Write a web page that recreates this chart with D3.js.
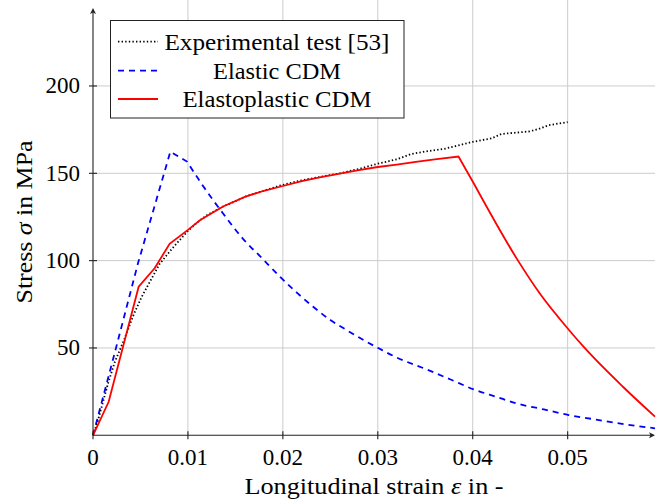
<!DOCTYPE html>
<html><head><meta charset="utf-8">
<script src="https://cdn.jsdelivr.net/npm/d3@7/dist/d3.min.js"></script>
<style>
body{margin:0;background:#fff;}
</style></head>
<body><svg id="c" width="664" height="500"></svg>
<script>
// ---- data ----
const xTicks = [0, 0.01, 0.02, 0.03, 0.04, 0.05];
const xTickLabels = ["0", "0.01", "0.02", "0.03", "0.04", "0.05"];
const yTicks = [50, 100, 150, 200];
const yTickLabels = ["50", "100", "150", "200"];
const seriesNames = ["Experimental test [53]", "Elastic CDM", "Elastoplastic CDM"];

const expStrain = [0,0.0005,0.001,0.0016,0.0023,0.0033,0.0042,0.0051,0.006,0.007,0.0082,0.009,0.01,0.011,0.012,0.0137,0.015,0.0162,0.018,0.0197,0.022,0.024,0.026,0.028,0.030,0.032,0.0335,0.035,0.037,0.0385,0.040,0.042,0.043,0.045,0.046,0.047,0.048,0.049,0.050];
const expStress = [0,8,18,30,42,55,68,79,88,98,106,111,117,122,126,131,134,137,140,143,146,148,150,152.5,155.5,158,161,162.5,164,166,168,170,172.5,173.5,174,175.5,177.5,178.5,179.3];

const elStrain = [0,0.00228,0.00474,0.00815,0.0099,0.0115,0.0137,0.0158,0.0178,0.0197,0.0215,0.0232,0.025,0.0267,0.0285,0.0301,0.032,0.0351,0.0376,0.0401,0.0425,0.0446,0.0475,0.0501,0.053,0.056,0.0592];
const elStress = [0,47,98.5,162.4,156.7,143.5,127,112.5,101.4,90.8,81.5,73.6,66,60.3,54.5,49.8,44.5,37.8,32.1,26.3,22,18.3,14.8,11.6,9,6.3,4];

const epStrain = [0,0.00165,0.00481,0.00649,0.00807,0.01,0.0113,0.0137,0.016,0.018,0.0197,0.022,0.024,0.026,0.028,0.030,0.032,0.034,0.036,0.0385,0.0401,0.04477,0.04705,0.05014,0.05179,0.05582,0.0592];
const epStress = [0,19.2,85.1,95.6,109.6,117.6,123.3,131,136.5,140,142.3,145.5,147.8,149.8,151.8,153.6,155,156.5,158,159.6,144.3,100,81.3,60.3,50,27.8,10.7];

// ---- layout ----
const svg = d3.select("#c");
const FONT = '"Liberation Serif"';
const x0 = 93, x1 = 655, yBase = 435.3, yTop = 0;
const x = d3.scaleLinear().domain([0, 0.0592]).range([x0, x1]);
const y = d3.scaleLinear().domain([0, 150]).range([yBase, 173.3]);

// grid
const g = svg.append("g");
g.selectAll(".vg").data(xTicks.slice(1)).join("line")
  .attr("x1", d => x(d)).attr("x2", d => x(d)).attr("y1", yTop).attr("y2", yBase)
  .attr("stroke", "#cccccc").attr("stroke-width", 1);
g.selectAll(".hg").data(yTicks).join("line")
  .attr("x1", x0).attr("x2", x1).attr("y1", d => y(d)).attr("y2", d => y(d))
  .attr("stroke", "#cccccc").attr("stroke-width", 1);

// curves
const line = d3.line().x(d => x(d[0])).y(d => y(d[1]));
const smooth = d3.line().x(d => x(d[0])).y(d => y(d[1])).curve(d3.curveMonotoneX);
const expPts = expStrain.map((s, i) => [s, expStress[i]]);
const elPts = elStrain.map((s, i) => [s, elStress[i]]);
const epPts = epStrain.map((s, i) => [s, epStress[i]]);
const peakEp = d3.maxIndex(epStress);
const peakEl = d3.maxIndex(elStress);

const elPath = line(elPts.slice(0, peakEl + 2)) + smooth(elPts.slice(peakEl + 1)).replace(/^M/, "L");
svg.append("path").attr("d", elPath).attr("fill", "none")
  .attr("stroke", "#0000ff").attr("stroke-width", 1.8).attr("stroke-dasharray", "6,5");
svg.append("path").attr("d", line(expPts)).attr("fill", "none")
  .attr("stroke", "#000").attr("stroke-width", 1.8).attr("stroke-dasharray", "1.4,2.2");
const epPath = line(epPts.slice(0, peakEp + 2)) + smooth(epPts.slice(peakEp + 1)).replace(/^M/, "L");
svg.append("path").attr("d", epPath).attr("fill", "none")
  .attr("stroke", "#ff0000").attr("stroke-width", 1.8);

// axes
const ax = svg.append("g").attr("stroke", "#222").attr("stroke-width", 1.1);
ax.append("line").attr("x1", x0).attr("x2", x1 - 2).attr("y1", yBase).attr("y2", yBase);
ax.append("line").attr("x1", x0).attr("x2", x0).attr("y1", yBase).attr("y2", 10);
svg.append("path").attr("d", `M${x1},${yBase} L${x1-6},${yBase-3} L${x1-4.5},${yBase} L${x1-6},${yBase+3}Z`).attr("fill", "#222");
svg.append("path").attr("d", `M${x0},8 L${x0-3},14 L${x0},12.5 L${x0+3},14Z`).attr("fill", "#222");

ax.selectAll(".xt").data(xTicks).join("line")
  .attr("x1", d => x(d)).attr("x2", d => x(d)).attr("y1", yBase - 4).attr("y2", yBase + 4);
ax.selectAll(".yt").data(yTicks).join("line")
  .attr("x1", x0 - 4).attr("x2", x0 + 4).attr("y1", d => y(d)).attr("y2", d => y(d));

// tick labels
svg.selectAll(".xl").data(xTicks).join("text")
  .style("font-family", FONT)
  .attr("x", d => x(d)).attr("y", 465).attr("text-anchor", "middle")
  .attr("font-size", 23).text((d, i) => xTickLabels[i]);
svg.selectAll(".yl").data(yTicks).join("text")
  .style("font-family", FONT)
  .attr("x", 80).attr("y", d => y(d) + 7.5).attr("text-anchor", "end")
  .attr("font-size", 23).text((d, i) => yTickLabels[i]);

// axis titles
const xt = svg.append("text").style("font-family", FONT).attr("x", 374).attr("y", 493.5).attr("text-anchor", "middle")
  .attr("font-size", 24).attr("textLength", 259).attr("lengthAdjust", "spacingAndGlyphs");
xt.append("tspan").text("Longitudinal strain ");
xt.append("tspan").attr("font-style", "italic").text("ε");
xt.append("tspan").text(" in -");
const yt = svg.append("text").style("font-family", FONT).attr("transform", "translate(32,222) rotate(-90)").attr("text-anchor", "middle")
  .attr("font-size", 24).attr("textLength", 163).attr("lengthAdjust", "spacingAndGlyphs");
yt.append("tspan").text("Stress ");
yt.append("tspan").attr("font-style", "italic").text("σ");
yt.append("tspan").text(" in MPa");

// legend
const lg = svg.append("g");
lg.append("rect").attr("x", 110.5).attr("y", 20.5).attr("width", 293.5).attr("height", 97.5)
  .attr("fill", "#fff").attr("stroke", "#222").attr("stroke-width", 1);
const legRows = [41.7, 70.7, 99];
const legWidths = [225, 128, 189];
const legStyles = [
  {c: "#000", dash: "1.4,2.2"},
  {c: "#0000ff", dash: "6,5"},
  {c: "#ff0000", dash: null}
];
seriesNames.forEach((name, i) => {
  lg.append("line").attr("x1", 118).attr("x2", 158).attr("y1", legRows[i]).attr("y2", legRows[i])
    .attr("stroke", legStyles[i].c).attr("stroke-width", 1.8)
    .attr("stroke-dasharray", legStyles[i].dash);
  lg.append("text").style("font-family", FONT).attr("x", 277).attr("y", legRows[i] + 8).attr("text-anchor", "middle")
    .attr("font-size", 24).attr("textLength", legWidths[i]).attr("lengthAdjust", "spacingAndGlyphs").text(name);
});
</script></body></html>
